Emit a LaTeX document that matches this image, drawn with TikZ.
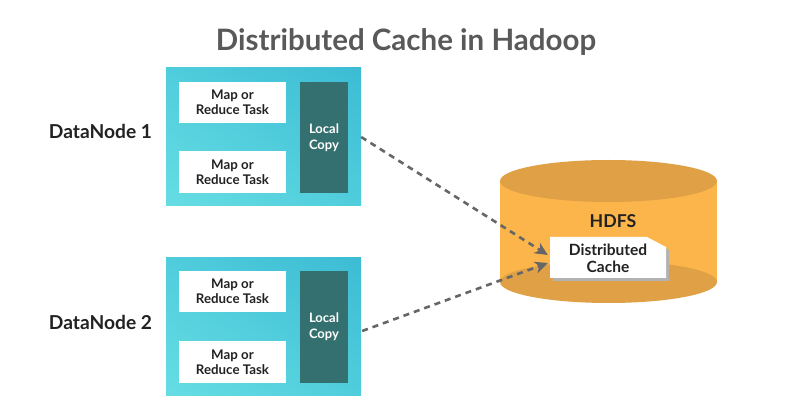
\documentclass[tikz,border=0pt]{standalone}
\usepackage{fontspec}
\setmainfont{Lato}
\usetikzlibrary{arrows.meta,calc,shadings}
\definecolor{titlegray}{HTML}{595959}
\definecolor{cyanlight}{HTML}{66DDE3}
\definecolor{cyanmid}{HTML}{50CDDC}
\definecolor{cyandark}{HTML}{3CBCD4}
\definecolor{tealdark}{HTML}{33706F}
\definecolor{hdfsbody}{HTML}{FBB54B}
\definecolor{hdfsend}{HTML}{DFA046}
\definecolor{arrowgray}{HTML}{666666}
\definecolor{ink}{HTML}{222222}
\tikzset{
  outerbox/.style={rectangle, minimum width=195pt, minimum height=138pt, inner sep=0pt,
    lower left=cyanlight, upper right=cyandark, upper left=cyanmid, lower right=cyanmid},
  taskbox/.style={rectangle, fill=white, minimum width=107pt, minimum height=41.5pt, inner sep=0pt,
    align=center, font=\bfseries\fontsize{13.3}{15}\selectfont, text=ink},
  copybox/.style={rectangle, fill=tealdark, minimum width=48pt, minimum height=111pt, inner sep=0pt,
    align=center, font=\bfseries\fontsize{13}{16}\selectfont, text=white},
  nodelabel/.style={font=\bfseries\fontsize{19.2}{22}\selectfont, text=ink},
  flow/.style={draw=arrowgray, line width=2.6pt, dash pattern=on 6pt off 5pt,
    -{Stealth[length=13pt,width=12pt,inset=4pt]}},
}
\begin{document}
\begin{tikzpicture}[x=1pt,y=-1pt]
\useasboundingbox (0,0) rectangle (787,403);
% title
\node[font=\bfseries\fontsize{29.5}{32}\selectfont, text=titlegray] (title) at (406,42) {Distributed Cache in Hadoop};
% DataNode 1
\node[outerbox, shade] (dn1) at (263.5,137) {};
\node[taskbox] (t11) at (232.5,102.5) {Map or\\Reduce Task};
\node[taskbox] (t12) at (232.5,172) {Map or\\Reduce Task};
\node[copybox] (c1) at (324,137.5) {Local\\Copy};
\node[nodelabel] (l1) at (100.5,131) {DataNode 1};
% DataNode 2
\node[outerbox, shade] (dn2) at (263.5,326.5) {};
\node[taskbox] (t21) at (232.5,291.5) {Map or\\Reduce Task};
\node[taskbox] (t22) at (232.5,362) {Map or\\Reduce Task};
\node[copybox] (c2) at (324,327) {Local\\Copy};
\node[nodelabel] (l2) at (100.5,322) {DataNode 2};
% HDFS cylinder
\fill[hdfsbody] (500,181) rectangle (717,282);
\fill[hdfsend] (608.5,282) ellipse [x radius=108.5, y radius=21];
\fill[hdfsend] (608.5,181) ellipse [x radius=108.5, y radius=21];
\node[font=\bfseries\fontsize{17.7}{20}\selectfont, text=ink] (hdfs) at (613,221) {HDFS};
% Distributed cache doc
\fill[black!30] (553,240) -- (650,240) -- (669,250) -- (669,281) -- (553,281) -- cycle;
\fill[white] (550,237) -- (647,237) -- (666,247) -- (666,278) -- (550,278) -- cycle;
\node[align=center, inner sep=0pt, minimum width=116pt, minimum height=41pt,
  font=\bfseries\fontsize{15.5}{17}\selectfont, text=ink] (dc) at (608,258) {Distributed\\Cache};
% arrows
\draw[flow] (dn1.east) -- ($(dc.west)+(-2,-3)$);
\draw[flow] ($(dn2.east)+(1,4.5)$) -- ($(dc.west)+(-2,5)$);
\end{tikzpicture}
\end{document}
